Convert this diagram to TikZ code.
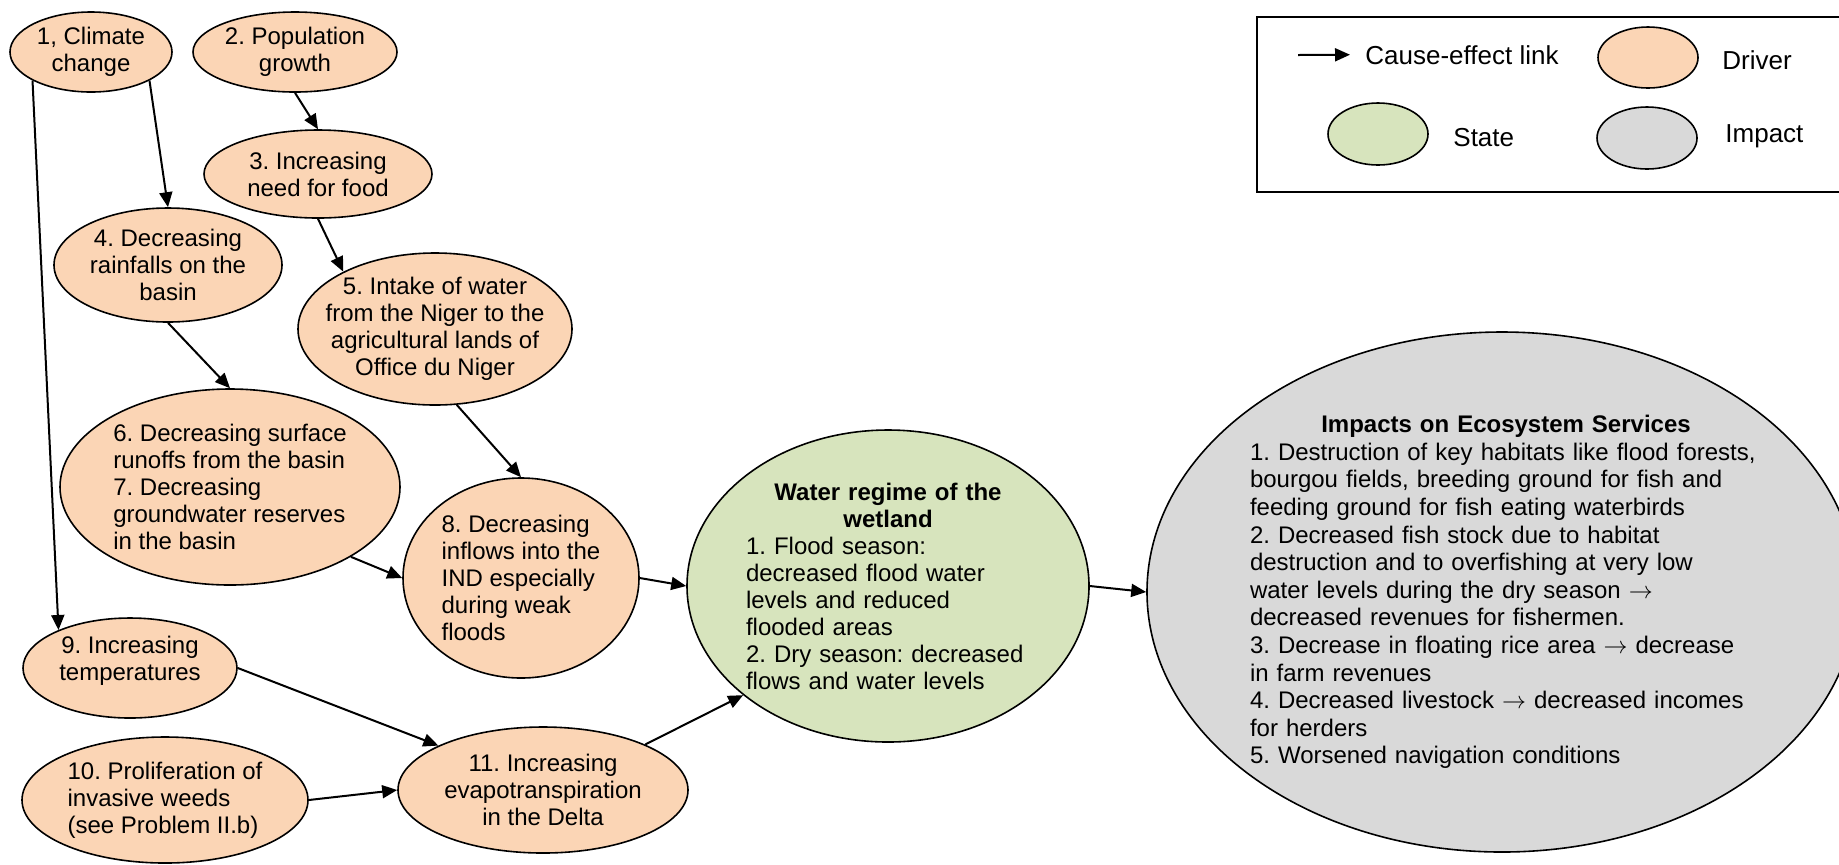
\documentclass[tikz,border=0pt]{standalone}
\usepackage{fontspec}
\setmainfont{Liberation Sans}
\usetikzlibrary{shapes.geometric,arrows.meta}
\setlength{\parindent}{0pt}
\frenchspacing
\hyphenpenalty=10000
\newcommand{\titleend}{\par}

\definecolor{drivercol}{HTML}{FBD5B5}
\definecolor{statecol}{HTML}{D7E4BD}
\definecolor{impactcol}{HTML}{D9D9D9}

\tikzset{
  blob/.style={ellipse, draw, line width=0.8pt, inner sep=0pt},
  driver/.style={blob, fill=drivercol},
  state/.style={blob, fill=statecol},
  impact/.style={blob, fill=impactcol},
  txt/.style={font=\fontsize{12}{13.5}\selectfont, align=center, inner sep=0pt},
  lgtxt/.style={font=\fontsize{13}{15}\selectfont, inner sep=0pt},
  link/.style={-{Triangle[length=7.5pt,width=6.5pt]}, line width=1pt},
}

\begin{document}
\begin{tikzpicture}[x=0.5pt,y=-0.5pt]
  \useasboundingbox (0,0) rectangle (1839,864);
  \clip (0,0) rectangle (1839,864);

  % drivers
  \node[driver, minimum width=81pt, minimum height=40pt, label={[txt]center:{1, Climate\\change}}] (climate) at (91,52) {};
  \node[driver, minimum width=102pt, minimum height=40pt, label={[txt]center:{2. Population\\growth}}] (population) at (295,52) {};
  \node[driver, minimum width=114pt, minimum height=44pt, label={[txt]center:{3. Increasing\\need for food}}] (food) at (318,174) {};
  \node[driver, minimum width=114pt, minimum height=57pt, label={[txt]center:{4. Decreasing\\rainfalls on the\\basin}}] (rainfall) at (168,265) {};
  \node[driver, minimum width=137pt, minimum height=76pt, label={[txt]center:{5. Intake of water\\from the Niger to the\\agricultural lands of\\Office du Niger}}] (intake) at (435,329) {};
  \node[driver, minimum width=170pt, minimum height=98pt, label={[txt, align=left]center:{6. Decreasing surface\\runoffs from the basin\\7. Decreasing\\groundwater reserves\\in the basin}}] (runoff) at (230,487) {};
  \node[driver, minimum width=118pt, minimum height=100pt, label={[txt, align=left]center:{8. Decreasing\\inflows into the\\IND especially\\during weak\\floods}}] (inflow) at (521,578) {};
  \node[driver, minimum width=107pt, minimum height=50pt, label={[txt, yshift=3.5pt]center:{9. Increasing\\temperatures}}] (temperature) at (130,668) {};
  \node[driver, minimum width=143pt, minimum height=63pt, label={[txt, align=left]center:{10. Proliferation of\\invasive weeds\\(see Problem II.b)}}] (weeds) at (165,800) {};
  \node[driver, minimum width=145pt, minimum height=63pt, label={[txt]center:{11. Increasing\\evapotranspiration\\in the Delta}}] (evapo) at (543,790) {};

  % state
  \node[state, minimum width=201pt, minimum height=156pt, label={[txt, text width=142pt, align=left]center:{{\centering\bfseries Water regime of the\\wetland\titleend}1. Flood season:\\decreased flood water\\levels and reduced\\flooded areas\\2. Dry season: decreased\\flows and water levels}}] (regime) at (888,586) {};

  % impact
  \node[impact, minimum width=355pt, minimum height=260pt, label={[txt, font=\fontsize{12}{13.8}\selectfont, text width=256pt, xshift=2pt, align=left]center:{{\centering\bfseries Impacts on Ecosystem Services\titleend}\mbox{1. Destruction of key habitats like flood forests,}\\bourgou fields, breeding ground for fish and\\feeding ground for fish eating waterbirds\\2. Decreased fish stock due to habitat\\destruction and to overfishing at very low\\water levels during the dry season $\rightarrow$\\decreased revenues for fishermen.\\3. Decrease in floating rice area $\rightarrow$ decrease\\in farm revenues\\4. Decreased livestock $\rightarrow$ decreased incomes\\for herders\\5. Worsened navigation conditions}}] (impacts) at (1502,592) {};

  % links
  \draw[link] (climate.206) -- (temperature.152);
  \draw[link] (climate.334) -- (rainfall.north);
  \draw[link] (population.south) -- (food.north);
  \draw[link] (food.south) -- (intake.148);
  \draw[link] (rainfall.south) -- (runoff.north);
  \draw[link] (intake.286) -- (inflow.north);
  \draw[link] (runoff.330) -- (inflow.west);
  \draw[link] (inflow.east) -- (regime.west);
  \draw[link] (temperature.east) -- (evapo.157);
  \draw[link] (weeds.east) -- (evapo.west);
  \draw[link] (evapo.24) -- (regime.217);
  \draw[link] (regime.east) -- (impacts.west);

  % legend
  \draw[line width=1pt] (1257,17) rectangle (1845,192);
  \coordinate (lgtail) at (1298,55);
  \node[lgtxt, anchor=base west] (lglink) at (1365,64) {Cause-effect link};
  \draw[link] (lgtail) -- ([xshift=-7.5pt]lglink.west);
  \node[driver, minimum width=50pt, minimum height=30.5pt] (lgdriver) at (1648,57.5) {};
  \node[lgtxt, anchor=base west] (lgdrivertxt) at (1722,69) {Driver};
  \node[state, minimum width=50pt, minimum height=31pt] (lgstate) at (1378,134) {};
  \node[lgtxt, anchor=base west] (lgstatetxt) at (1453,146) {State};
  \node[impact, minimum width=50pt, minimum height=31pt] (lgimpact) at (1647,138) {};
  \node[lgtxt, anchor=base west] (lgimpacttxt) at (1725,142) {Impact};
\end{tikzpicture}
\end{document}
